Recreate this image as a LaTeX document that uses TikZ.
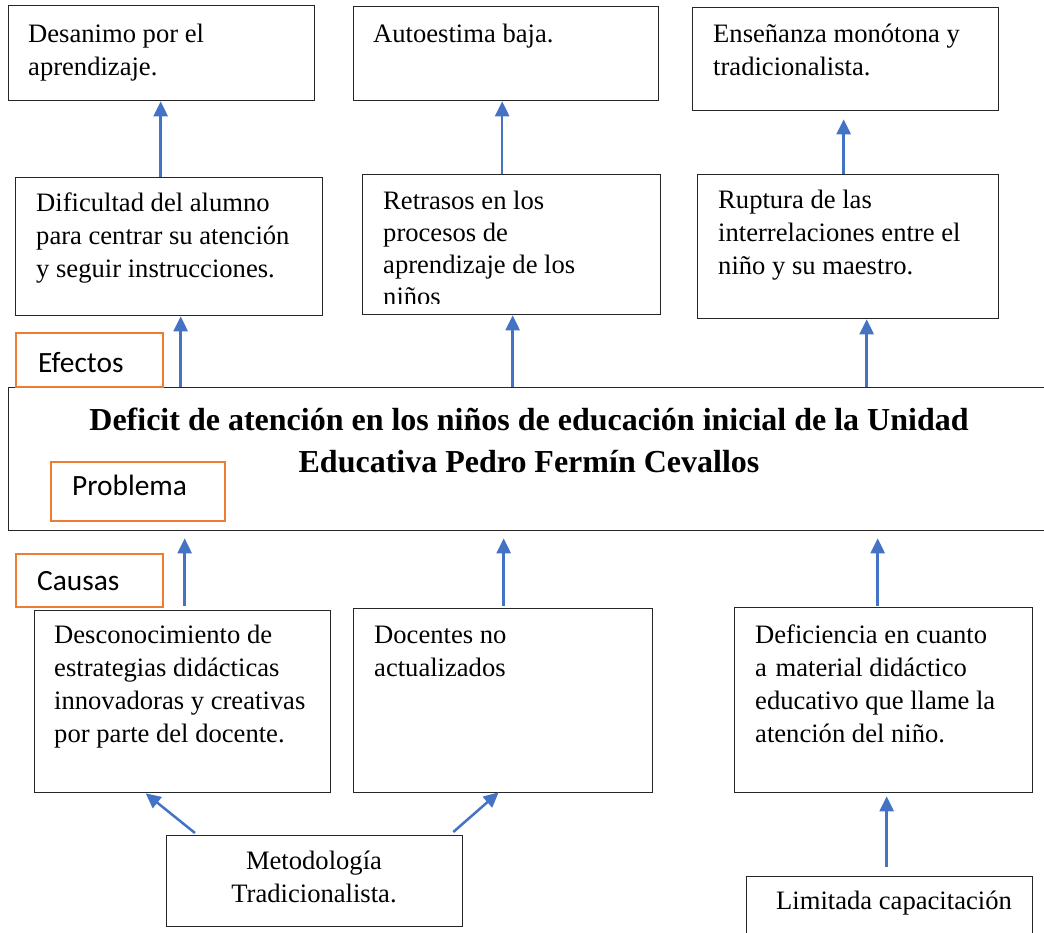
\documentclass[tikz,border=0pt]{standalone}
\usepackage{fontspec}
\setmainfont{Liberation Serif}
\newfontfamily\calib{Carlito}
\usetikzlibrary{arrows.meta,calc}
\definecolor{blueA}{HTML}{4472C4}
\definecolor{orangeA}{HTML}{ED7D31}
\newcommand{\lefttab}[1]{\begin{tabular}[t]{@{}l@{}}#1\end{tabular}}
\newcommand{\centtab}[1]{\begin{tabular}[t]{@{}c@{}}#1\end{tabular}}
\begin{document}
\begin{tikzpicture}[x=1pt,y=-1pt,
 box/.style={draw=black!85, line width=1.3pt, inner sep=0, anchor=north west},
 obox/.style={draw=orangeA, line width=2pt, inner sep=0, anchor=north west},
 txt/.style={inner sep=0, anchor=base west, font=\fontsize{26.6}{33.3}\selectfont},
 ctxt/.style={inner sep=0, anchor=base, font=\fontsize{26.6}{33.8}\selectfont},
 otxt/.style={inner sep=0, anchor=base west, font=\calib\fontsize{29.4}{34}\selectfont},
 arr/.style={draw=blueA, line width=2.5pt, -{Triangle[length=15pt,width=14pt]}},
]
\useasboundingbox (0,0) rectangle (1044,932);
% boxes
\node[box, minimum width=306, minimum height=95] (a1) at (8,5) {};
\node[box, minimum width=305, minimum height=94] (a2) at (353,6) {};
\node[box, minimum width=306, minimum height=103] (a3) at (692,7) {};
\node[box, minimum width=307, minimum height=138] (b1) at (15,177) {};
\node[box, minimum width=298, minimum height=140] (b2) at (362,174) {};
\node[box, minimum width=301, minimum height=144] (b3) at (697,174) {};
\node[box, minimum width=1045, minimum height=143] (p) at (8,387) {};
\node[obox, minimum width=147, minimum height=54] (ef) at (15,332) {};
\node[obox, minimum width=174, minimum height=59] (pr) at (50,461) {};
\node[obox, minimum width=147, minimum height=53] (ca) at (15,553) {};
\node[box, minimum width=296, minimum height=182] (c1) at (34,610) {};
\node[box, minimum width=299, minimum height=184] (c2) at (353,608) {};
\node[box, minimum width=298, minimum height=185] (c3) at (734,607) {};
\node[box, minimum width=296, minimum height=91] (d1) at (166,835) {};
\node[box, minimum width=286, minimum height=70] (d2) at (746,876) {};
% texts
\node[txt] (a1t) at (28,42) {\lefttab{Desanimo por el\\aprendizaje.}};
\node[txt] (a2t) at (373,42) {Autoestima baja.};
\node[txt] (a3t) at (713,42) {\lefttab{Enseñanza monótona y\\tradicionalista.}};
\node[txt] (b1t) at (36,211) {\lefttab{Dificultad del alumno\\para centrar su atención\\y seguir instrucciones.}};
\begin{scope}
\clip (362,174) rectangle (660,303);
\node[txt, font=\fontsize{26.6}{32.3}\selectfont] (b2t) at (383,209) {\lefttab{Retrasos en los\\procesos de\\aprendizaje de los\\niños}};
\end{scope}
\node[txt] (b3t) at (718,208) {\lefttab{Ruptura de las\\interrelaciones entre el\\niño y su maestro.}};
\node[inner sep=0, anchor=base, font=\bfseries\fontsize{32}{42}\selectfont] (pt) at (529,430) {\centtab{Deficit de atención en los niños de educación inicial de la Unidad\\Educativa Pedro Fermín Cevallos}};
\node[otxt] (eft) at (38,372) {Efectos};
\node[otxt] (prt) at (72,495) {Problema};
\node[otxt] (cat) at (37,590) {Causas};
\node[txt] (c1t) at (54,643) {\lefttab{Desconocimiento de\\estrategias didácticas\\innovadoras y creativas\\por parte del docente.}};
\node[txt] (c2t) at (374,643) {\lefttab{Docentes no\\actualizados}};
\node[txt] (c3t) at (755,643) {\lefttab{Deficiencia en cuanto\\a\hspace{2pt} material didáctico\\educativo que llame la\\atención del niño.}};
\node[ctxt] (d1t) at (314,869) {\centtab{Metodología\\Tradicionalista.}};
\node[ctxt] (d2t) at (894,909) {Limitada capacitación};
% arrows
\draw[arr] ($(b1.north -| a1.south)+(-1,0)$) -- ($(a1.south)+(-1,0)$);
\draw[arr] ($(b2.north -| a2.south)+(-4,0)$) -- ($(a2.south)+(-4,0)$);
\draw[arr] ($(b3.north -| a3.south)+(-2,0)$) -- ($(a3.south)+(-2,8)$);
\draw[arr] ($(p.north -| b1.south)+(11.5,0)$) -- ($(b1.south)+(11.5,0)$);
\draw[arr] ($(p.north -| b2.south)+(1,0)$) -- ($(b2.south)+(1,0)$);
\draw[arr] ($(p.north -| b3.south)+(18.5,0)$) -- ($(b3.south)+(18.5,0)$);
\draw[arr] ($(c1.north)+(2,-4)$) -- ($(c1.north |- p.south)+(2,7)$);
\draw[arr] ($(c2.north)+(0.5,-2)$) -- ($(c2.north |- p.south)+(0.5,7)$);
\draw[arr] ($(c3.north)+(-6,-1)$) -- ($(c3.north |- p.south)+(-6,7)$);
\draw[arr] ($(d1.north west)+(29,-2)$) -- ($(c1.south)+(-37,0)$);
\draw[arr] ($(d1.north east)+(-10,-3)$) -- ($(c2.south)+(-4.5,-1)$);
\draw[arr] ($(d2.north)+(-3,-9)$) -- ($(c3.south)+(3,3)$);
\end{tikzpicture}
\end{document}
